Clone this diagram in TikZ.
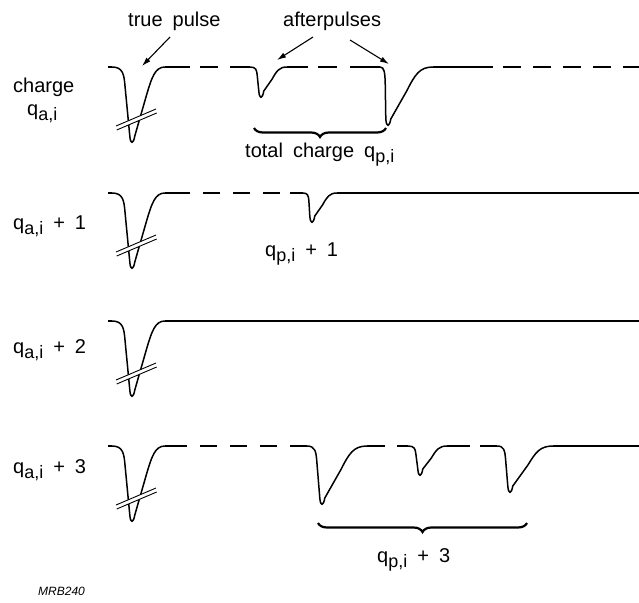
\documentclass[tikz,border=0pt]{standalone}
\usepackage{fontspec}
\setmainfont{Liberation Sans}
\usetikzlibrary{arrows.meta,decorations.pathreplacing}
\newcommand\subs[1]{\raisebox{-5pt}{\fontsize{18}{18}\selectfont #1}}
\newcommand\wsp{\hspace{0.5em}}
\tikzset{
  trace/.style={line width=1.5pt,line join=round},
  brkline/.style={line width=0.9pt},
  lbl/.style={inner sep=0pt,anchor=base west,font=\fontsize{20}{24}\selectfont},
  arr/.style={line width=1.1pt,-{Latex[length=9pt,width=5.5pt]}},
  brc/.style={line width=2.2pt,decorate,decoration={brace,mirror,amplitude=9pt}},
  dsh/.style={trace,dash pattern=on 18pt off 12pt}
}
\newcommand\pulse[5]{%
  \pgfmathsetmacro\pL{#3-#1}\pgfmathsetmacro\pW{#5-#3}%
  \draw[trace] (#1,#2) .. controls ({#1+0.55*\pL},#2) and ({#1+0.6*\pL},{#2+0.1*#4}) .. ({#1+0.65*\pL},{#2+0.25*#4})
    -- ({#3-2.2},{#2+#4-7}) .. controls ({#3-1.6},{#2+#4+1.5}) and ({#3+1.3},{#2+#4+1.5}) .. ({#3+2.8},{#2+#4-7})
    -- ({#3+0.42*\pW},{#2+0.4*#4}) .. controls ({#3+0.6*\pW},{#2+0.13*#4}) and ({#3+0.7*\pW},#2) .. (#5,#2);}
\newcommand\brk[1]{%
  \fill[white] (116,{#1+59}) -- (156,{#1+42}) -- (156.7,{#1+46}) -- (116.7,{#1+63}) -- cycle;
  \draw[brkline] (116,{#1+59}) -- (156,{#1+42}) (116.7,{#1+63}) -- (156.7,{#1+46});}
\newcommand\hseg[3]{\draw[trace] (#1,#3) -- (#2,#3);}
\begin{document}
\begin{tikzpicture}[x=1pt,y=-1pt]
\useasboundingbox (0,0) rectangle (639,602);
% ---------- row 1 ----------
\hseg{108}{112}{67}
\pulse{112}{67}{132}{76}{165}
\hseg{165}{190}{67}
\hseg{200}{218}{67}
\hseg{230}{250}{67}
\pulse{250}{67}{261}{31}{287}
\hseg{287}{308}{67}
\hseg{318}{337}{67}
\hseg{350}{380}{67}
\pulse{380}{67}{388}{59}{433}
\hseg{433}{493}{67}
\draw[dsh] (503,67) -- (639,67);
\brk{67}
% ---------- row 2 ----------
\hseg{108}{112}{193}
\pulse{112}{193}{132}{76}{165}
\hseg{165}{190}{193}
\hseg{203}{220}{193}
\hseg{233}{250}{193}
\hseg{263}{280}{193}
\hseg{290}{303}{193}
\pulse{303}{193}{312}{30}{337}
\hseg{337}{639}{193}
\brk{193}
% ---------- row 3 ----------
\hseg{108}{112}{321}
\pulse{112}{321}{132}{76}{165}
\hseg{165}{639}{321}
\brk{321}
% ---------- row 4 ----------
\hseg{108}{112}{446}
\pulse{112}{446}{132}{76}{165}
\hseg{165}{187}{446}
\hseg{200}{217}{446}
\hseg{230}{247}{446}
\hseg{260}{277}{446}
\hseg{290}{307}{446}
\pulse{307}{446}{322}{59}{367}
\hseg{367}{385}{446}
\hseg{397}{408}{446}
\pulse{408}{446}{420}{30}{447}
\hseg{447}{470}{446}
\hseg{480}{497}{446}
\pulse{497}{446}{510}{47}{553}
\hseg{553}{639}{446}
\brk{446}
% ---------- labels ----------
\node[lbl] (tp) at (128,27) {true\wsp pulse};
\node[lbl] (ap) at (283,27) {afterpulses};
\node[lbl] (ch) at (13,92) {charge};
\node[lbl] (qa0) at (27,115) {q\subs{a,i}};
\node[lbl] (tc) at (245,157) {total\wsp charge\wsp q\subs{p,i}};
\node[lbl] (qa1) at (13,229) {q\subs{a,i}\wsp+\wsp 1};
\node[lbl] (qp1) at (265,256) {q\subs{p,i}\wsp+\wsp 1};
\node[lbl] (qa2) at (13,353) {q\subs{a,i}\wsp+\wsp 2};
\node[lbl] (qa3) at (13,473) {q\subs{a,i}\wsp+\wsp 3};
\node[lbl] (qp3) at (377,562) {q\subs{p,i}\wsp+\wsp 3};
\node[lbl,font=\fontsize{12}{14}\selectfont\itshape] (mrb) at (38,595) {MRB240};
% ---------- arrows ----------
\coordinate (a1s) at (170,37); \coordinate (a1e) at (142,66);
\coordinate (a2s) at (313,37); \coordinate (a2e) at (277,60);
\coordinate (a3s) at (350,40); \coordinate (a3e) at (389,64);
\draw[arr] (a1s) -- (a1e);
\draw[arr] (a2s) -- (a2e);
\draw[arr] (a3s) -- (a3e);
% ---------- braces ----------
\coordinate (b1l) at (254,128); \coordinate (b1r) at (386,128);
\coordinate (b2l) at (318,523); \coordinate (b2r) at (527,523);
\draw[brc] (b1l) -- (b1r);
\draw[brc] (b2l) -- (b2r);
\end{tikzpicture}
\end{document}
